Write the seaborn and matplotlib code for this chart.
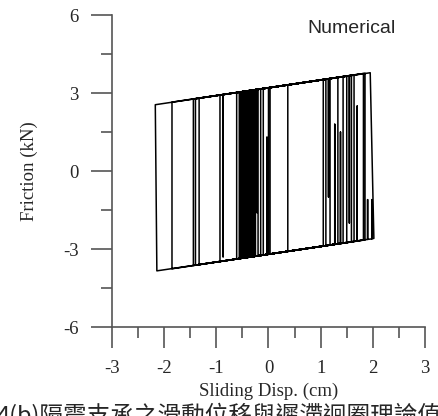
import matplotlib
matplotlib.use("Agg")
import matplotlib.pyplot as plt
from matplotlib.ticker import MultipleLocator
import seaborn as sns
import pandas as pd

# hysteresis path of the isolator: sliding displacement (cm) and friction force (kN)
disp = [
    -0.30, -0.30, 0.03, 0.03, -0.35, -0.35, 0.37, 0.37, -0.93, -0.93,
    -0.87, -0.87, -0.87, -0.22, -0.22, -0.22, 1.05, 1.05, -1.44, -1.44,
    1.15, 1.15, 1.15, 1.55, 1.55, 1.55, 1.59, 1.59, -1.85, -1.85,
    1.85, 1.85, -2.14, -2.17, 1.95, 2.02,
    1.98, 1.98, 1.98, 1.90, 1.90, 1.90, 1.70, 1.70, 1.70, 1.38, 1.38, 1.38,
    1.27, 1.27, 1.27, -0.03, -0.03, -0.03,
    -1.40, -1.40, 1.82, 1.82, -1.33, -1.33, 1.64, 1.64, -0.61, -0.61,
    1.50, 1.50, -0.56, -0.56, 1.43, 1.43, -0.53, -0.53, 1.33, 1.33,
    -0.50, -0.50, 1.18, 1.18, -0.47, -0.47, 1.10, 1.10, -0.44, -0.44,
    -0.15, -0.15, -0.41, -0.41, -0.25, -0.25, -0.38, -0.38, 0.00, 0.00,
    -0.545, -0.545, -0.20, -0.20, -0.515, -0.515, -0.32, -0.32,
    -0.485, -0.485, -0.28, -0.28, -0.455, -0.455, -0.10, -0.10,
    -0.425, -0.425, -0.33, -0.33, -0.395, -0.395, -0.27, -0.27,
    -0.365, -0.365,
]
friction = [
    -3.29, 3.11, 3.21, -3.19, -3.31, 3.10, 3.31, -3.09, -3.48, 2.92,
    2.94, -3.30, 2.94, 3.13, -1.60, 3.13, 3.52, -2.89, -3.63, 2.77,
    3.55, -1.00, 3.55, 3.67, -2.00, 3.67, 3.68, -2.72, -3.76, 2.65,
    3.76, -2.65, -3.84, 2.55, 3.78, -2.59,
    -2.61, -1.10, -2.61, -2.63, -1.10, -2.63, -2.69, 2.50, -2.69, -2.79, 1.50, -2.79,
    -2.82, 1.80, -2.82, -3.21, 1.30, -3.21,
    -3.62, 2.78, 3.75, -2.65, -3.60, 2.80, 3.69, -2.71, -3.38, 3.02,
    3.65, -2.75, -3.37, 3.03, 3.63, -2.77, -3.36, 3.04, 3.60, -2.80,
    -3.35, 3.05, 3.55, -2.85, -3.34, 3.06, 3.53, -2.87, -3.33, 3.07,
    3.16, -3.25, -3.32, 3.08, 3.13, -3.28, -3.31, 3.09, 3.20, -3.20,
    -3.36, 3.04, 3.14, -3.26, -3.35, 3.05, 3.10, -3.30,
    -3.35, 3.05, 3.12, -3.28, -3.34, 3.06, 3.17, -3.23,
    -3.33, 3.07, 3.10, -3.30, -3.32, 3.08, 3.12, -3.28,
    -3.31, 3.09,
]

x_ticks = [-3, -2, -1, 0, 1, 2, 3]
y_ticks = [-6, -3, 0, 3, 6]
caption = "4(b)隔震支承之滑動位移與遲滯迴圈理論值"

df = pd.DataFrame({"disp": disp, "friction": friction})

sns.set_style("ticks")
plt.rcParams["font.family"] = ["Liberation Serif", "DejaVu Serif"]

fig = plt.figure(figsize=(4.38, 4.16), dpi=100)
ax = fig.add_axes([0.2557, 0.2139, 0.7146, 0.75])

sns.lineplot(data=df, x="disp", y="friction", sort=False, estimator=None,
             color="black", linewidth=1.1, ax=ax)

ax.set_xlim(-3, 3)
ax.set_ylim(-6, 6)
ax.set_xticks(x_ticks)
ax.set_yticks(y_ticks)
ax.set_xticklabels([str(t) for t in x_ticks])
ax.set_yticklabels([str(t) for t in y_ticks])
ax.xaxis.set_minor_locator(MultipleLocator(0.5))
ax.yaxis.set_minor_locator(MultipleLocator(1.5))

for side in ["top", "right"]:
    ax.spines[side].set_visible(False)
for side in ["left", "bottom"]:
    ax.spines[side].set_color("#555555")
    ax.spines[side].set_linewidth(1.2)

ax.tick_params(which="major", direction="out", length=15, width=1.2,
               color="#555555", labelsize=13.5)
ax.tick_params(axis="x", which="major", pad=9)
ax.tick_params(axis="y", which="major", pad=9)
ax.tick_params(which="minor", direction="out", length=8, width=1.2,
               color="#555555")

ax.set_xlabel("Sliding Disp. (cm)", fontsize=13.5, labelpad=4)
ax.set_ylabel("Friction (kN)", fontsize=13.5, labelpad=18)

ax.text(1.6, 5.5, "Numerical", fontsize=14, ha="center", va="center",
        family=["Liberation Sans", "DejaVu Sans"])

fig.text(-0.007, 0.032, caption, fontsize=17, ha="left", va="top",
         family=["Noto Sans CJK TC", "DejaVu Sans"])

fig.savefig("out.png", dpi=100)
